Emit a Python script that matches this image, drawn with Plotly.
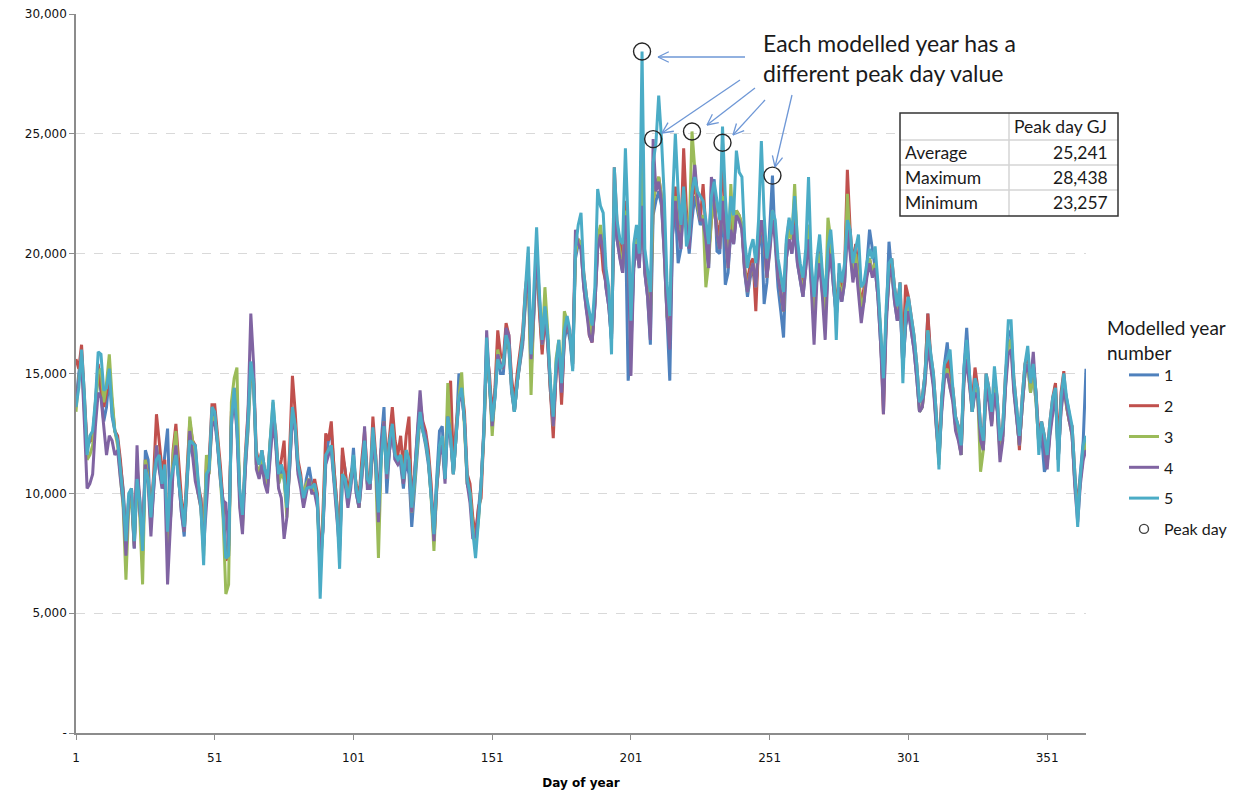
import math
import plotly.graph_objects as go

# ---------------- data (thousand GJ per day) ----------------
year1 = [
    13.8, 15.0, 15.8, 13.6, 11.9, 12.2, 12.5, 13.6, 15.2, 14.2,
    13.0, 13.6, 15.0, 13.2, 12.6, 12.2, 11.2, 10.2, 8.2, 9.4,
    9.8, 7.7, 10.6, 9.8, 7.6, 11.8, 11.4, 8.6, 10.2, 11.9,
    11.0, 10.4, 11.6, 12.7, 8.8, 11.2, 12.0, 10.4, 9.2, 8.2,
    10.2, 12.4, 11.6, 11.4, 10.0, 9.8, 7.9, 11.0, 11.2, 13.2,
    13.4, 12.0, 10.8, 9.6, 7.4, 7.6, 13.2, 14.2, 12.8, 10.0,
    9.2, 11.0, 12.6, 15.0, 14.6, 11.2, 10.8, 11.4, 10.6, 10.2,
    11.6, 13.2, 12.2, 10.4, 11.2, 10.6, 9.4, 11.0, 13.4, 12.8,
    11.0, 10.4, 9.6, 10.6, 11.1, 10.4, 10.2, 9.6, 6.8, 8.6,
    11.4, 12.2, 12.6, 11.0, 9.2, 8.0, 11.6, 11.0, 9.6, 10.4,
    11.9, 10.0, 9.4, 10.8, 12.0, 10.4, 10.2, 12.2, 11.6, 9.4,
    12.2, 13.6, 10.0, 11.8, 12.6, 11.4, 11.6, 11.2, 10.2, 11.4,
    10.8, 8.6, 10.2, 12.0, 13.2, 12.6, 12.0, 11.2, 10.0, 8.6,
    10.6, 12.6, 12.8, 10.6, 13.0, 12.2, 10.8, 12.4, 15.0, 14.2,
    13.0, 10.4, 10.0, 8.6, 8.2, 9.2, 10.4, 12.4, 15.8, 14.6,
    12.8, 14.0, 15.8, 15.0, 15.0, 16.4, 16.0, 14.2, 13.4, 14.6,
    15.4, 16.2, 18.0, 19.2, 15.0, 17.4, 19.8, 17.8, 16.0, 17.4,
    16.2, 14.2, 12.8, 15.0, 16.0, 14.0, 16.4, 17.0, 16.4, 15.2,
    19.8, 20.4, 20.2, 18.6, 17.6, 17.0, 16.4, 17.8, 20.2, 20.8,
    20.0, 18.6, 17.8, 16.4, 22.0, 20.6, 19.8, 19.2, 21.4, 14.7,
    16.0, 19.4, 20.4, 19.4, 21.8, 19.2, 18.2, 16.2, 21.6, 22.2,
    22.6, 22.0, 20.0, 17.2, 14.7, 20.8, 22.0, 19.6, 20.2, 22.2,
    21.0, 20.0, 21.4, 22.4, 21.8, 21.2, 21.4, 20.4, 19.4, 22.8,
    23.1, 20.1, 20.0, 22.2, 18.7, 19.2, 21.0, 20.4, 21.6, 21.4,
    21.0, 19.2, 18.2, 19.0, 19.4, 18.4, 20.2, 21.2, 17.9, 18.8,
    20.8, 23.257, 20.4, 18.6, 17.6, 16.5, 19.8, 20.6, 20.0, 21.0,
    19.6, 18.8, 18.2, 19.4, 21.0, 18.8, 17.4, 19.0, 19.8, 18.4,
    17.4, 19.2, 20.0, 18.6, 17.4, 18.6, 18.0, 18.8, 21.2, 20.2,
    19.0, 19.8, 18.6, 17.6, 18.0, 19.6, 21.0, 20.2, 19.4, 18.2,
    16.4, 14.2, 17.2, 20.5, 19.2, 18.0, 17.2, 18.2, 15.2, 17.0,
    17.6, 16.8, 16.0, 14.8, 13.4, 13.6, 15.0, 17.5, 15.4, 14.6,
    13.0, 11.4, 13.6, 15.4, 16.3, 14.8, 14.0, 12.8, 12.4, 11.6,
    15.2, 16.9, 15.0, 13.4, 14.4, 14.0, 12.4, 11.8, 14.6, 14.0,
    13.0, 14.4, 13.6, 11.8, 12.4, 14.6, 16.6, 16.8, 14.4, 13.2,
    12.0, 13.6, 15.0, 15.4, 14.2, 15.0, 13.8, 12.0, 12.4, 10.9,
    11.2, 12.6, 13.6, 14.55, 11.4, 13.6, 14.6, 14.0, 13.3, 12.4,
    10.4, 9.6, 11.0, 12.2, 15.2,
]
year2 = [
    15.6, 15.2, 16.2, 14.0, 12.0, 12.2, 12.2, 13.8, 15.4, 14.4,
    13.6, 14.2, 15.0, 13.8, 12.6, 12.4, 11.4, 10.0, 7.8, 9.8,
    10.2, 8.0, 11.2, 9.6, 7.4, 11.4, 10.6, 9.2, 10.8, 13.3,
    12.2, 11.0, 11.4, 8.2, 9.2, 11.8, 12.9, 11.2, 9.8, 8.8,
    10.8, 13.0, 12.2, 12.0, 10.4, 9.8, 7.8, 11.4, 11.4, 13.7,
    13.7, 12.6, 11.2, 9.6, 7.2, 7.4, 13.4, 14.4, 13.2, 10.0,
    8.8, 11.6, 13.2, 15.2, 14.8, 11.8, 11.2, 11.8, 11.0, 10.6,
    12.2, 13.4, 12.6, 10.8, 11.4, 12.2, 9.6, 11.8, 14.9, 13.4,
    11.4, 10.8, 9.6, 10.2, 10.6, 10.0, 10.6, 10.0, 6.8, 9.2,
    12.5, 12.2, 13.0, 11.0, 9.6, 8.0, 11.9, 10.8, 10.0, 10.8,
    11.2, 10.4, 9.8, 11.4, 12.6, 10.8, 10.6, 13.2, 11.6, 9.2,
    11.8, 13.0, 11.4, 12.4, 13.6, 12.2, 11.6, 12.4, 11.0, 12.4,
    13.2, 9.6, 10.8, 12.4, 13.8, 13.0, 12.6, 11.8, 10.4, 8.0,
    10.2, 11.6, 12.2, 11.0, 13.6, 14.7, 11.2, 12.8, 14.0, 14.4,
    13.4, 10.8, 10.4, 9.0, 8.2, 9.4, 9.8, 12.6, 16.0, 15.0,
    13.2, 14.4, 16.8, 15.8, 15.6, 17.1, 16.6, 14.8, 13.8, 15.0,
    16.0, 16.8, 18.6, 19.4, 15.6, 18.0, 20.2, 17.6, 15.8, 17.4,
    16.4, 14.2, 12.3, 15.0, 16.0, 13.7, 16.6, 17.2, 16.6, 15.8,
    20.0, 20.6, 20.4, 19.2, 18.2, 16.6, 16.3, 18.0, 20.4, 20.8,
    19.3, 18.8, 18.0, 16.6, 23.6, 21.2, 20.4, 19.8, 22.2, 20.4,
    16.6, 20.0, 21.0, 19.6, 22.8, 19.8, 18.8, 17.6, 22.2, 22.8,
    23.2, 22.4, 20.6, 17.8, 16.6, 21.4, 22.8, 21.8, 20.8, 24.4,
    21.8, 20.6, 22.2, 23.0, 22.0, 21.4, 22.9, 21.0, 20.0, 21.4,
    22.0, 21.2, 20.6, 24.63, 21.2, 19.8, 21.6, 20.6, 21.8, 21.6,
    21.2, 19.4, 18.8, 19.6, 19.8, 17.6, 20.4, 21.4, 20.6, 19.0,
    20.2, 21.6, 20.8, 19.2, 18.4, 17.6, 20.4, 21.4, 20.6, 21.8,
    20.2, 19.4, 18.4, 19.6, 21.2, 19.4, 17.6, 19.2, 20.4, 19.0,
    17.6, 19.8, 20.6, 19.2, 17.6, 19.2, 18.6, 19.4, 23.5, 21.0,
    19.6, 20.4, 19.2, 17.8, 18.6, 19.2, 19.8, 19.2, 19.6, 18.4,
    16.6, 13.3, 17.4, 19.0, 19.8, 18.6, 17.8, 18.8, 15.8, 18.7,
    18.2, 17.4, 16.6, 15.4, 13.8, 14.0, 15.0, 17.5, 15.8, 15.0,
    13.4, 11.8, 14.0, 15.0, 15.6, 14.8, 14.4, 13.2, 12.8, 12.0,
    14.8, 16.0, 14.6, 13.8, 15.25, 14.4, 12.8, 12.2, 15.0, 14.4,
    12.9, 14.8, 14.0, 12.2, 12.8, 15.0, 16.2, 16.4, 14.8, 13.6,
    11.8, 14.0, 15.4, 15.8, 14.6, 15.4, 14.2, 12.4, 13.0, 12.4,
    11.6, 13.0, 14.0, 14.6, 11.8, 14.2, 15.1, 13.6, 13.0, 12.8,
    10.8, 9.2, 10.6, 11.6, 12.0,
]
year3 = [
    13.4, 14.8, 15.6, 13.6, 11.4, 11.6, 12.0, 13.6, 15.0, 15.2,
    13.8, 14.6, 15.8, 14.0, 12.6, 12.0, 10.8, 9.4, 6.4, 9.4,
    9.8, 7.8, 10.8, 9.0, 6.2, 11.4, 10.6, 8.6, 10.4, 12.0,
    11.2, 10.4, 11.0, 7.6, 8.8, 11.6, 12.6, 10.6, 9.4, 8.4,
    10.4, 13.2, 12.2, 11.6, 10.0, 9.4, 7.4, 11.6, 10.8, 13.0,
    13.2, 12.2, 10.6, 9.0, 5.8, 6.2, 13.8, 14.8, 15.25, 9.6,
    8.6, 11.2, 12.8, 15.2, 14.8, 11.2, 10.8, 11.4, 10.6, 10.2,
    12.2, 13.8, 12.2, 10.4, 10.8, 10.6, 9.0, 11.2, 13.4, 12.8,
    11.0, 10.4, 10.0, 10.4, 10.6, 10.2, 10.2, 9.6, 6.6, 8.8,
    11.4, 11.8, 12.0, 10.6, 9.2, 7.8, 10.8, 10.6, 9.6, 10.4,
    11.4, 10.2, 9.4, 10.8, 12.2, 10.4, 10.2, 12.4, 11.0, 7.3,
    11.4, 13.0, 10.6, 12.0, 12.8, 11.6, 11.2, 11.6, 10.4, 11.8,
    11.4, 9.2, 10.4, 12.0, 13.4, 12.6, 12.2, 11.4, 9.8, 7.6,
    10.2, 11.6, 12.2, 10.6, 14.6, 12.4, 10.8, 12.4, 14.0, 15.05,
    13.0, 10.4, 10.0, 8.6, 7.8, 8.8, 10.4, 12.6, 16.0, 14.6,
    12.4, 14.0, 16.0, 15.4, 15.2, 16.6, 16.2, 14.4, 13.4, 14.6,
    15.6, 16.4, 18.2, 19.2, 14.1, 17.6, 20.0, 18.0, 16.2, 18.6,
    16.8, 14.4, 12.8, 15.6, 16.4, 14.6, 17.6, 17.2, 16.6, 15.4,
    20.0, 20.6, 20.4, 18.8, 17.8, 17.2, 16.6, 18.0, 20.6, 21.2,
    20.2, 18.8, 18.0, 16.6, 22.2, 20.8, 20.0, 19.4, 21.8, 20.4,
    16.4, 19.6, 20.6, 19.6, 24.0, 19.4, 18.4, 17.0, 22.2, 22.8,
    23.2, 22.4, 20.2, 17.4, 17.4, 21.0, 22.4, 21.2, 20.4, 22.6,
    21.4, 20.8, 25.1, 23.6, 22.0, 21.4, 21.6, 18.6, 19.6, 21.4,
    22.2, 20.8, 20.2, 22.4, 20.8, 19.4, 22.9, 20.6, 21.8, 21.6,
    21.2, 19.4, 18.4, 19.2, 19.6, 18.6, 20.4, 21.4, 20.6, 19.0,
    20.2, 21.8, 20.8, 19.2, 18.4, 17.6, 20.0, 21.0, 20.6, 22.9,
    20.4, 19.0, 18.4, 19.6, 21.2, 19.0, 17.6, 19.2, 20.0, 18.6,
    17.6, 21.5, 20.6, 18.8, 17.6, 18.8, 18.2, 19.0, 22.5, 20.4,
    19.2, 20.0, 18.8, 17.8, 18.2, 19.2, 19.8, 19.2, 19.6, 18.4,
    16.6, 14.0, 17.4, 19.0, 19.4, 18.2, 17.4, 18.4, 15.4, 17.2,
    17.8, 17.0, 16.2, 15.0, 13.4, 13.6, 14.6, 16.8, 15.4, 14.6,
    12.8, 11.2, 13.6, 15.0, 15.2, 14.4, 14.0, 12.8, 12.4, 11.6,
    14.8, 16.0, 14.6, 13.4, 14.4, 14.0, 10.9, 11.8, 14.6, 14.0,
    13.0, 14.4, 13.6, 11.6, 12.4, 14.6, 16.2, 16.4, 14.4, 13.2,
    12.0, 13.6, 15.0, 15.4, 14.2, 15.0, 13.8, 12.0, 12.6, 12.0,
    11.2, 12.6, 13.6, 14.2, 11.4, 13.6, 14.6, 13.6, 13.0, 12.4,
    10.4, 9.2, 10.6, 11.6, 12.2,
]
year4 = [
    13.8, 14.6, 15.6, 13.0, 10.2, 10.4, 10.8, 12.8, 14.2, 14.0,
    12.8, 11.6, 12.4, 12.2, 11.6, 11.8, 10.6, 9.6, 7.4, 9.8,
    10.2, 7.7, 12.0, 9.2, 8.2, 11.2, 10.4, 8.2, 10.2, 12.0,
    11.0, 10.2, 10.6, 6.2, 8.6, 11.0, 12.0, 10.6, 9.2, 8.4,
    10.4, 12.6, 11.6, 10.5, 10.0, 9.4, 7.8, 9.4, 10.8, 12.8,
    13.0, 12.0, 10.6, 9.7, 9.6, 7.8, 12.8, 14.0, 12.6, 9.4,
    8.3, 11.0, 13.4, 17.5, 15.4, 11.0, 10.6, 11.2, 10.4, 10.0,
    11.6, 13.0, 12.0, 10.2, 9.8, 8.1, 9.0, 11.0, 13.2, 12.6,
    10.8, 10.2, 9.4, 10.0, 10.6, 10.0, 10.0, 9.4, 7.5, 8.4,
    11.2, 11.6, 11.8, 10.4, 9.0, 7.6, 10.6, 10.4, 9.4, 10.2,
    11.4, 10.0, 9.4, 10.6, 12.8, 10.2, 10.2, 12.2, 11.2, 8.8,
    11.8, 13.0, 10.6, 11.8, 12.6, 11.4, 11.2, 11.4, 10.4, 11.6,
    11.2, 9.2, 10.8, 12.6, 14.3, 12.8, 12.4, 11.4, 10.0, 8.0,
    10.2, 11.6, 12.0, 10.4, 13.2, 12.4, 10.8, 12.4, 13.8, 14.2,
    13.0, 10.4, 9.6, 8.1, 8.2, 9.0, 10.4, 12.8, 16.8, 14.6,
    12.8, 14.2, 15.8, 15.4, 15.2, 16.9, 16.6, 14.4, 13.4, 14.6,
    15.6, 16.4, 18.2, 19.4, 15.6, 17.6, 20.2, 18.0, 16.2, 17.6,
    16.4, 14.4, 12.8, 15.0, 16.0, 14.2, 16.6, 17.2, 16.6, 15.4,
    21.0, 20.4, 20.2, 18.6, 17.6, 16.6, 16.3, 17.8, 20.2, 20.8,
    20.0, 18.6, 17.8, 16.4, 22.0, 20.6, 19.8, 19.2, 21.6, 20.2,
    14.9, 19.4, 20.4, 19.4, 22.0, 19.2, 18.2, 16.4, 24.78, 22.6,
    23.0, 22.2, 20.0, 17.4, 16.0, 20.8, 22.2, 21.0, 20.2, 22.4,
    21.2, 20.2, 22.4, 23.7, 22.4, 21.4, 21.4, 20.6, 19.4, 23.2,
    22.0, 20.8, 20.2, 22.2, 20.8, 19.4, 21.0, 20.4, 21.6, 21.4,
    21.0, 19.2, 18.4, 19.2, 19.6, 18.6, 20.4, 21.4, 20.6, 19.0,
    20.0, 21.4, 20.6, 19.0, 18.4, 17.6, 19.8, 20.6, 20.0, 21.2,
    19.6, 18.8, 18.2, 19.4, 20.6, 18.6, 16.2, 18.8, 19.6, 18.2,
    16.4, 19.2, 20.0, 18.6, 17.4, 18.6, 18.0, 18.8, 21.0, 20.0,
    18.8, 19.6, 18.4, 17.1, 18.0, 19.0, 19.6, 19.0, 19.4, 18.2,
    16.2, 13.3, 17.0, 19.0, 19.4, 18.0, 17.2, 18.0, 15.2, 17.0,
    17.6, 16.8, 16.0, 14.8, 13.4, 13.6, 14.6, 16.2, 15.2, 14.4,
    12.8, 11.4, 13.4, 14.8, 15.0, 14.4, 13.8, 12.6, 12.2, 11.6,
    14.6, 15.6, 14.4, 13.4, 14.2, 14.0, 12.2, 11.8, 14.4, 13.8,
    12.8, 14.2, 13.4, 11.3, 12.2, 14.4, 15.8, 16.0, 14.2, 13.2,
    12.0, 13.6, 15.0, 15.4, 14.6, 15.9, 14.2, 12.2, 12.6, 11.8,
    11.0, 12.4, 13.4, 14.2, 11.4, 13.4, 14.4, 13.6, 13.0, 12.4,
    10.2, 8.8, 10.4, 11.4, 11.8,
]
year5 = [
    13.6, 14.4, 16.0, 14.2, 11.6, 12.4, 12.6, 13.9, 15.9, 15.8,
    14.3, 14.4, 15.2, 13.4, 12.6, 12.2, 11.0, 9.8, 8.0, 10.0,
    10.2, 8.0, 10.6, 9.6, 7.6, 11.0, 10.6, 9.0, 10.6, 11.4,
    11.6, 10.4, 11.2, 8.4, 10.5, 11.0, 11.6, 10.5, 9.6, 8.6,
    10.6, 12.2, 12.1, 12.0, 10.6, 9.4, 7.0, 10.8, 11.0, 13.6,
    13.4, 12.2, 10.8, 9.2, 7.3, 7.4, 13.0, 14.4, 12.8, 10.2,
    9.1, 11.4, 13.0, 15.5, 14.6, 11.6, 11.2, 11.8, 11.0, 10.6,
    12.4, 13.9, 12.4, 10.8, 11.2, 10.8, 9.4, 11.6, 13.6, 12.8,
    11.2, 10.6, 9.8, 10.2, 10.25, 10.25, 10.4, 9.8, 5.6, 8.6,
    11.6, 11.8, 12.0, 10.6, 9.4, 6.85, 10.8, 10.6, 9.8, 10.4,
    11.6, 10.2, 9.6, 11.0, 12.2, 10.6, 10.4, 12.75, 11.4, 9.2,
    11.4, 12.8, 10.8, 12.2, 12.9, 11.6, 11.4, 11.6, 10.6, 11.8,
    11.4, 9.4, 10.6, 12.2, 13.4, 12.6, 12.2, 11.4, 10.0, 8.3,
    10.4, 12.0, 12.4, 10.6, 13.2, 12.4, 10.8, 12.4, 14.0, 14.4,
    13.0, 10.6, 10.0, 8.4, 7.3, 8.8, 10.4, 12.6, 16.5, 14.6,
    13.0, 14.0, 15.6, 15.2, 15.4, 16.6, 16.2, 14.4, 13.4, 14.6,
    15.6, 16.6, 18.6, 20.3, 15.8, 18.2, 21.1, 18.4, 16.4, 17.8,
    16.6, 14.6, 13.2, 15.4, 16.4, 14.6, 16.8, 17.4, 16.8, 15.1,
    20.2, 21.2, 21.7, 19.2, 18.2, 17.6, 17.0, 18.6, 22.7, 22.0,
    21.7, 19.4, 18.6, 15.8, 23.6, 21.4, 20.6, 20.4, 24.4, 21.2,
    17.2, 20.4, 21.2, 20.0, 28.438, 20.2, 19.4, 18.4, 23.8, 24.6,
    26.6, 24.8, 22.4, 18.8, 17.4, 22.2, 25.0, 22.6, 21.2, 22.8,
    20.3, 20.8, 22.6, 23.2, 22.6, 22.4, 22.2, 21.4, 20.4, 22.4,
    23.0, 22.2, 21.4, 25.3, 22.4, 20.6, 22.4, 21.6, 24.3, 23.4,
    23.2, 20.6, 19.4, 20.2, 20.6, 19.6, 21.4, 24.7, 21.6, 19.8,
    20.6, 21.8, 21.4, 19.8, 19.0, 18.4, 20.6, 21.5, 20.8, 22.4,
    20.6, 19.6, 19.0, 20.2, 23.2, 19.6, 18.2, 19.8, 20.8, 19.2,
    18.2, 20.2, 21.0, 19.6, 16.4, 19.6, 18.8, 19.6, 21.4, 21.0,
    19.6, 20.2, 20.8, 18.6, 18.8, 19.6, 20.2, 19.8, 20.3, 18.8,
    17.0, 14.8, 17.8, 19.6, 19.8, 18.6, 17.8, 18.8, 14.6, 17.6,
    18.2, 17.4, 16.6, 15.4, 13.8, 14.0, 15.0, 16.8, 15.8, 15.0,
    13.4, 11.0, 14.0, 15.4, 15.6, 16.0, 14.4, 13.2, 12.8, 12.0,
    15.2, 16.4, 15.0, 13.4, 14.8, 14.4, 12.8, 12.2, 15.0, 14.4,
    13.4, 15.3, 14.0, 12.2, 12.8, 15.2, 17.2, 17.2, 14.8, 13.6,
    12.4, 14.0, 15.4, 16.15, 14.6, 15.4, 14.2, 11.6, 13.0, 12.4,
    11.6, 13.0, 14.0, 14.4, 10.9, 14.0, 15.0, 14.0, 13.4, 12.8,
    10.8, 8.6, 10.8, 12.0, 12.4,
]

series_names = ["1", "2", "3", "4", "5"]
series_values = [year1, year2, year3, year4, year5]
series_colors = ["#4F81BD", "#C0504D", "#9BBB59", "#8064A2", "#4BACC6"]

x_tick_vals = [1, 51, 101, 151, 201, 251, 301, 351]
y_tick_vals = [0, 5000, 10000, 15000, 20000, 25000, 30000]
y_tick_text = ["-", "5,000", "10,000", "15,000", "20,000", "25,000", "30,000"]

table_header = "Peak day GJ"
table_rows = ["Average", "Maximum", "Minimum"]
callout_text = "Each modelled year has a<br>different peak day value"
legend_title_lines = ["Modelled year", "number"]

# ---------------- layout geometry (pixels) ----------------
W, H = 1242, 793
PL, PR, PT, PB = 76, 1086, 14, 733
PW, PH = PR - PL, PB - PT


def paper(px, py):
    return (px - PL) / PW, (PB - py) / PH


FONT = "Lato, 'Open Sans', sans-serif"
AXFONT = "'DejaVu Sans', Verdana, sans-serif"

fig = go.Figure()

peak_days, peak_vals = [], []
for name, vals, col in zip(series_names, series_values, series_colors):
    days = list(range(1, len(vals) + 1))
    gj = [v * 1000 for v in vals]
    fig.add_trace(go.Scatter(
        x=days, y=gj, mode="lines", name=name,
        line=dict(color=col, width=3), legendgroup=name,
        hoverinfo="skip",
    ))
    i = max(range(len(gj)), key=lambda k: gj[k])
    peak_days.append(days[i])
    peak_vals.append(gj[i])

fig.add_trace(go.Scatter(
    x=peak_days, y=peak_vals, mode="markers", showlegend=False,
    marker=dict(symbol="circle-open", size=17, color="#262626",
                line=dict(width=1.4, color="#262626")),
    hoverinfo="skip",
))
fig.add_trace(go.Scatter(
    x=[None], y=[None], mode="markers", name="Peak day", legendgroup="peak",
    marker=dict(symbol="circle-open", size=9, color="#404040",
                line=dict(width=1.4, color="#404040")),
))

shapes = []
annotations = []

# ---- callout arrows (open V heads) ----
arrow_col = "#6E97D6"
arrows = [(745, 57, 658, 57), (740, 80, 662, 133), (755, 88, 707, 125),
          (765, 100, 733, 135), (792, 95, 775, 167)]
for x0, y0, x1, y1 in arrows:
    ax0, ay0 = paper(x0, y0)
    ax1, ay1 = paper(x1, y1)
    shapes.append(dict(type="line", xref="paper", yref="paper", x0=ax0, y0=ay0,
                       x1=ax1, y1=ay1, line=dict(color=arrow_col, width=1.3)))
    ang = math.atan2(y0 - y1, x0 - x1)
    for da in (0.45, -0.45):
        hx = x1 + 12 * math.cos(ang + da)
        hy = y1 + 12 * math.sin(ang + da)
        p0 = paper(x1, y1)
        p1 = paper(hx, hy)
        shapes.append(dict(type="line", xref="paper", yref="paper", x0=p0[0], y0=p0[1],
                           x1=p1[0], y1=p1[1], line=dict(color=arrow_col, width=1.3)))

cx, cy = paper(761, 58)
annotations.append(dict(xref="paper", yref="paper", x=cx, y=cy, xanchor="left", yanchor="middle",
                        text=callout_text, showarrow=False, align="left",
                        font=dict(family=FONT, size=23, color="#1a1a1a")))

# ---- peak-day table ----
tx0, tx1, ty0, ty1, tcol = 900, 1118, 113, 216, 1009
row_lines = [140, 165, 190]
a, b = paper(tx0, ty0)
c, d = paper(tx1, ty1)
shapes.append(dict(type="rect", xref="paper", yref="paper", x0=a, y0=b, x1=c, y1=d,
                   fillcolor="white", line=dict(color="white", width=0), layer="above"))
for ry in row_lines:
    p0 = paper(tx0, ry)
    p1 = paper(tx1, ry)
    shapes.append(dict(type="line", xref="paper", yref="paper", x0=p0[0], y0=p0[1],
                       x1=p1[0], y1=p1[1], line=dict(color="#d4d4d4", width=1.5)))
p0 = paper(tcol, ty0)
p1 = paper(tcol, ty1)
shapes.append(dict(type="line", xref="paper", yref="paper", x0=p0[0], y0=p0[1],
                   x1=p1[0], y1=p1[1], line=dict(color="#d4d4d4", width=1.5)))
shapes.append(dict(type="rect", xref="paper", yref="paper", x0=a, y0=b, x1=c, y1=d,
                   line=dict(color="#333333", width=1.5), layer="above"))

stats = [sum(peak_vals) / len(peak_vals), max(peak_vals), min(peak_vals)]
TFS = 17.5
hx, hy = paper(1012, 127)
annotations.append(dict(xref="paper", yref="paper", x=hx, y=hy, xanchor="left", yanchor="middle",
                        text=table_header, showarrow=False,
                        font=dict(family=FONT, size=TFS, color="#1a1a1a")))
row_centers = [153, 178, 203]
for lab, val, ry in zip(table_rows, stats, row_centers):
    lx, ly = paper(903, ry)
    annotations.append(dict(xref="paper", yref="paper", x=lx, y=ly, xanchor="left", yanchor="middle",
                            text=lab, showarrow=False,
                            font=dict(family=FONT, size=TFS, color="#1a1a1a")))
    vx, vy = paper(1110, ry)
    annotations.append(dict(xref="paper", yref="paper", x=vx, y=vy, xanchor="right", yanchor="middle",
                            text=f"{val:,.0f}", showarrow=False,
                            font=dict(family=FONT, size=TFS, color="#1a1a1a")))

# ---- legend title ----
for txt, ly in zip(legend_title_lines, [327, 352]):
    lx, lyp = paper(1105, ly)
    annotations.append(dict(xref="paper", yref="paper", x=lx, y=lyp, xanchor="left", yanchor="middle",
                            text=txt, showarrow=False,
                            font=dict(family=FONT, size=19, color="#1a1a1a")))

fig.update_layout(
    width=W, height=H, autosize=False,
    margin=dict(l=PL, r=W - PR, t=PT, b=H - PB, pad=0, autoexpand=False),
    paper_bgcolor="white", plot_bgcolor="white",
    shapes=shapes, annotations=annotations,
    showlegend=True,
    legend=dict(xref="container", yref="container",
                x=1124 / W, y=1 - 358 / H, xanchor="left", yanchor="top",
                font=dict(family=FONT, size=16, color="#1a1a1a"),
                tracegroupgap=7, itemwidth=30, bgcolor="rgba(0,0,0,0)",
                traceorder="grouped"),
    xaxis=dict(range=[1, 365], tickvals=x_tick_vals, showgrid=False, zeroline=False,
               automargin=False,
               showline=True, linecolor="#8c8c8c", linewidth=1.5,
               ticks="outside", ticklen=5, tickcolor="#8c8c8c", ticklabelstandoff=8,
               tickfont=dict(family=AXFONT, size=12, color="#111111"),
               title=dict(text="<b>Day of year</b>", standoff=14,
                          font=dict(family=AXFONT, size=12, color="#000000"))),
    yaxis=dict(range=[0, 30000], tickvals=y_tick_vals, ticktext=y_tick_text,
               automargin=False,
               showgrid=True, gridcolor="#d9d9d9", griddash="dash", gridwidth=1,
               zeroline=False, showline=True, linecolor="#8c8c8c", linewidth=1.5,
               ticks="outside", ticklen=5, tickcolor="#8c8c8c",
               tickfont=dict(family=AXFONT, size=12, color="#111111")),
)

fig.write_html("out.html", config={"displayModeBar": False},
               post_script="document.body.style.margin='0px';")
